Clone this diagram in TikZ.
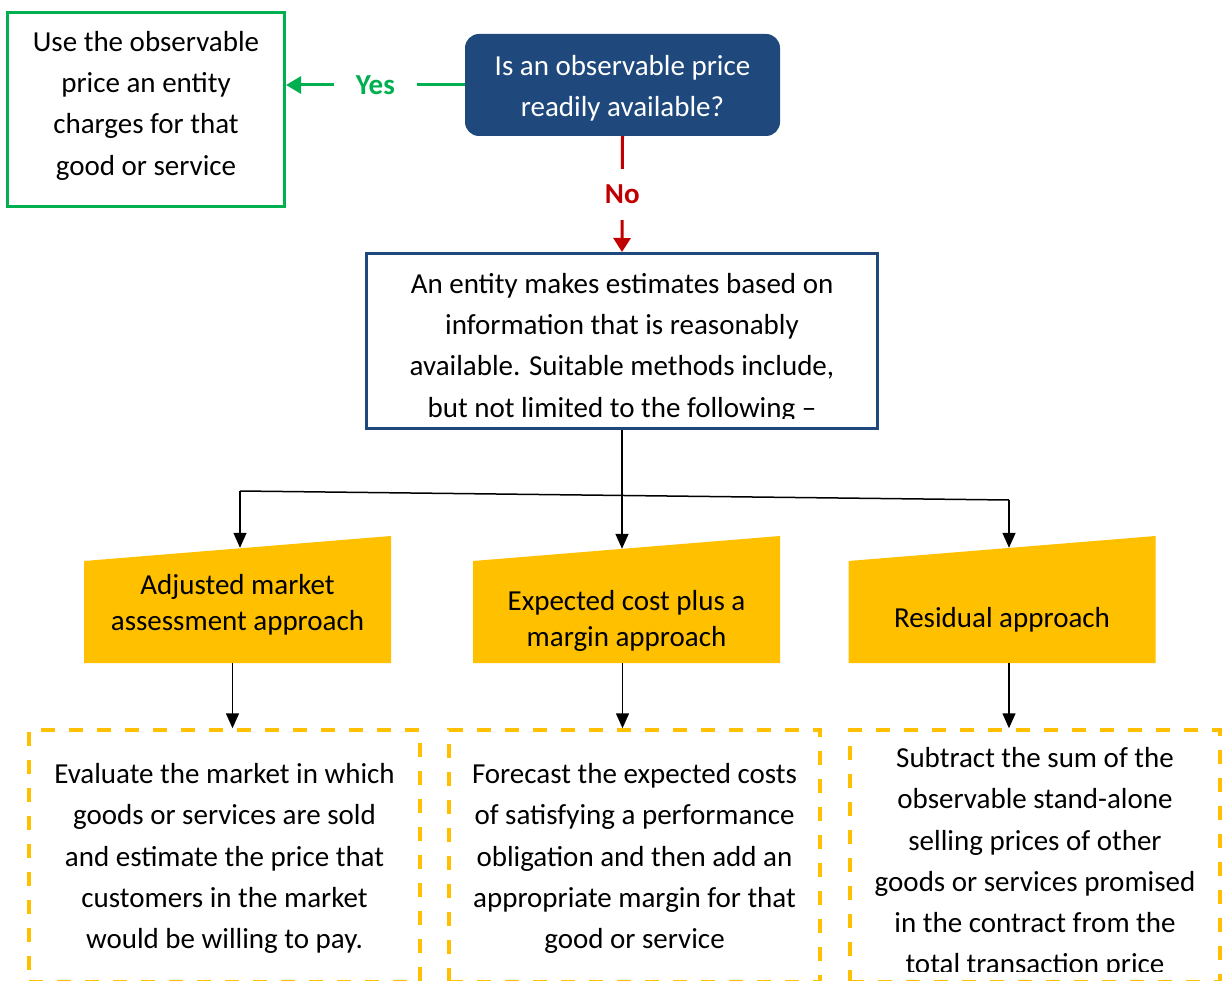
\documentclass[tikz,border=0pt]{standalone}
\usepackage{fontspec}
\setmainfont{Carlito}
\usetikzlibrary{arrows.meta,positioning}
\definecolor{askblue}{HTML}{1F497D}
\definecolor{yesgreen}{HTML}{00B050}
\definecolor{nored}{HTML}{C00000}
\definecolor{approachgold}{HTML}{FFC000}

\tikzset{
  bodyfont/.style={font=\fontsize{29}{41.3}\selectfont},
  answerfont/.style={font=\fontsize{29}{36}\selectfont\bfseries},
  trapfont/.style={font=\fontsize{29}{36}\selectfont},
  arr/.style={line width=1.5pt, -{Triangle[width=13pt,length=15pt]}},
  yesline/.style={color=yesgreen, line width=3pt, -{Triangle[width=17pt,length=15pt]}},
  noline/.style={color=nored, line width=3pt, -{Triangle[width=17pt,length=14pt]}},
  trapbox/.style={minimum width=307pt, minimum height=127pt, inner sep=0pt,
    path picture={\fill[approachgold] (path picture bounding box.south west)
      -- (path picture bounding box.south east) -- (path picture bounding box.north east)
      -- ([yshift=-25pt]path picture bounding box.north west) -- cycle;}},
  methodbox/.style={draw=approachgold, line width=3.5pt, dash pattern=on 14pt off 14pt,
    minimum height=252pt},
}

\begin{document}
\begin{tikzpicture}[x=1pt, y=-1pt]
    \clip (0,0) rectangle (1225,981);

    % question and the two answers
    \node[fill=askblue, rounded corners=14pt, minimum width=315pt, minimum height=102pt,
          label={[yshift=-3.5pt, text=white, align=center, bodyfont]center:{Is an observable price\\readily available?}}] (ask) at (622.5,85) {};
    \node[draw=yesgreen, line width=3pt, minimum width=277pt, minimum height=194pt,
          label={[yshift=4pt, align=center, bodyfont]center:{Use the observable\\price an entity\\charges for that\\good or service}}] (usebox) at (146,109.5) {};
    \node[draw=askblue, line width=3pt, minimum width=511pt, minimum height=175pt] (est) at (622,341) {};
    \begin{scope}
        \clip (368,255) rectangle (876,418);
        \node[align=center, bodyfont] (esttxt) at (622,347.5)
            {An entity makes estimates based on\\information that is reasonably\\available. Suitable methods include,\\but not limited to the following --};
    \end{scope}

    \draw[yesline] (ask.west) -- node[fill=white, inner xsep=22pt, answerfont] {Yes} (usebox.east |- ask.west);
    \draw[noline] (ask.south) -- node[fill=white, inner ysep=16pt, answerfont] {No} (est.north);

    % approaches
    \node[trapbox, label={[yshift=-5.5pt, align=center, trapfont]center:{Adjusted market\\assessment approach}}] (adjbox) at (237.5,599.5) {};
    \node[trapbox, label={[yshift=-21.5pt, align=center, trapfont]center:{Expected cost plus a\\margin approach}}] (costbox) at (626.5,599.5) {};
    \node[trapbox, label={[yshift=-20.5pt, align=center, trapfont]center:{Residual approach}}] (resbox) at (1002,599.5) {};

    \coordinate (brL) at (240,491);
    \coordinate (brR) at (1009,500);
    \coordinate (adjin) at ([yshift=-12pt]adjbox.north);
    \coordinate (costin) at ([yshift=-13pt]costbox.north);
    \coordinate (resin) at ([yshift=-12pt]resbox.north);
    \draw[line width=1.5pt] (brL) -- (brR);
    \draw[arr] (brL) -- (brL |- adjin);
    \draw[arr] (est.south) -- (est.south |- costin);
    \draw[arr] (brR) -- (brR |- resin);

    % what each approach does
    \node[methodbox, minimum width=391pt,
          label={[yshift=-2.5pt, align=center, bodyfont]center:{Evaluate the market in which\\goods or services are sold\\and estimate the price that\\customers in the market\\would be willing to pay.}}] (evalbox) at (224.5,856) {};
    \node[methodbox, minimum width=371pt,
          label={[yshift=-2.5pt, align=center, bodyfont]center:{Forecast the expected costs\\of satisfying a performance\\obligation and then add an\\appropriate margin for that\\good or service}}] (forebox) at (634.5,856) {};
    \node[methodbox, minimum width=370pt] (subbox) at (1035,856) {};
    \begin{scope}
        \clip (853,733) rectangle (1217,971);
        \node[align=center, bodyfont] (subtxt) at (1035,863)
            {Subtract the sum of the\\observable stand-alone\\selling prices of other\\goods or services promised\\in the contract from the\\total transaction price};
    \end{scope}

    \draw[arr] ([xshift=-5pt]adjbox.south) -- ([xshift=-5pt]adjbox.south |- evalbox.north);
    \draw[arr] ([xshift=-4pt]costbox.south) -- ([xshift=-4pt]costbox.south |- forebox.north);
    \draw[arr] ([xshift=7pt]resbox.south) -- ([xshift=7pt]resbox.south |- subbox.north);
\end{tikzpicture}
\end{document}
